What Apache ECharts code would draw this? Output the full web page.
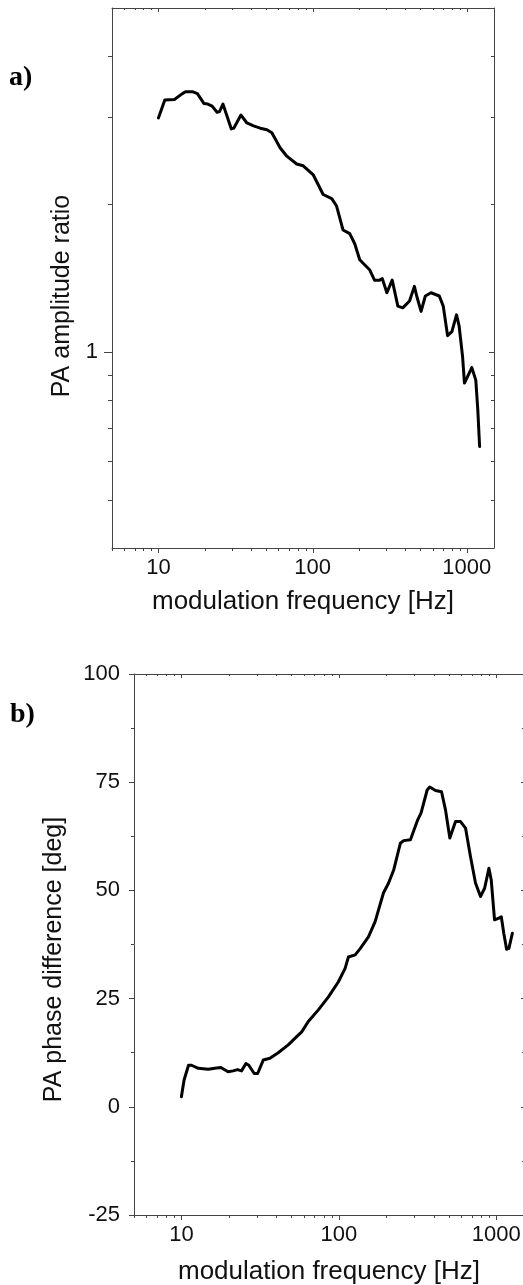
<!DOCTYPE html>
<html><head><meta charset="utf-8">
<script src="https://cdn.jsdelivr.net/npm/echarts@6/dist/echarts.min.js"></script>
<style>html,body{margin:0;padding:0;background:#fff}#c{width:523px;height:1285px}</style>
</head><body><div id="c"></div><script>
// ---- data ----
const ampFreq  = [10, 11.0, 11.3, 12.7, 14.3, 15.0, 16.6, 17.9, 19.7, 20.9, 22.3, 24.0, 24.9, 26.2, 27.9, 29.7, 30.8, 34.3, 37.5, 41.4, 45.7, 50.5, 54.4, 61.5, 68, 78.8, 86.9, 101, 117, 133, 143, 157.5, 174, 187.5, 202, 234, 252, 272, 283, 303, 328, 357, 384, 425, 457, 473, 505, 538, 586, 663, 703, 750, 800, 857, 891, 938, 965, 1077, 1143, 1178, 1210];
const ampRatio = [2.99, 3.25, 3.27, 3.26, 3.35, 3.38, 3.38, 3.35, 3.20, 3.19, 3.16, 3.07, 3.08, 3.19, 3.01, 2.84, 2.85, 3.03, 2.92, 2.88, 2.85, 2.83, 2.79, 2.60, 2.50, 2.41, 2.39, 2.29, 2.09, 2.05, 1.98, 1.77, 1.74, 1.66, 1.54, 1.47, 1.40, 1.40, 1.41, 1.32, 1.40, 1.24, 1.23, 1.27, 1.36, 1.30, 1.21, 1.30, 1.32, 1.30, 1.24, 1.08, 1.10, 1.19, 1.13, 0.98, 0.865, 0.93, 0.877, 0.762, 0.643];

const phaseFreq = [10, 10.4, 11.1, 11.6, 12.8, 14.8, 16.3, 17.8, 19.8, 21.3, 22.7, 24.1, 25.7, 26.8, 29.0, 30.5, 33.1, 36.5, 41.2, 47.7, 54, 58.1, 64, 74.1, 85.9, 99.4, 109.6, 115, 127, 137, 154.5, 170, 192, 207, 223, 246, 258, 285, 317, 333, 364, 378, 411, 449, 476, 507, 551, 593, 638, 686, 738, 794, 843, 898, 929, 975, 1040, 1076, 1116, 1163, 1203, 1265];
const phaseDeg  = [2.3, 6.2, 9.6, 9.6, 8.9, 8.7, 8.9, 9.1, 8.1, 8.3, 8.6, 8.3, 10.0, 9.6, 7.7, 7.7, 10.8, 11.2, 12.5, 14.3, 16.2, 17.3, 19.7, 22.4, 25.4, 28.9, 32.0, 34.6, 35.1, 36.6, 39.3, 42.8, 49.4, 51.7, 54.7, 60.9, 61.5, 61.7, 66.3, 67.9, 73.2, 73.9, 73.1, 72.8, 68.6, 62.1, 65.9, 65.9, 64.4, 57.8, 51.7, 48.6, 50.5, 55.1, 52.4, 43.2, 43.6, 43.9, 40.1, 36.4, 36.6, 40.1];

// tick values
const freqMajorTicks = [10, 100, 1000];
const freqMinorTicks = [5, 6, 7, 8, 9, 20, 30, 40, 50, 60, 70, 80, 90, 200, 300, 400, 500, 600, 700, 800, 900];
const ampMajorTicks = [1];
const ampMinorTicks = [0.5, 0.6, 0.7, 0.8, 0.9, 2, 3, 4];
const phaseTickLabels = [-25, 0, 25, 50, 75, 100];

// ---- styling ----
const AXC = '#444';
const FONT = '"Liberation Sans", Arial, sans-serif';
const TXT = '#111';

const chart = echarts.init(document.getElementById('c'), null, {renderer: 'canvas'});

function isDecade(v) {
  const l = Math.log10(v);
  return Math.abs(l - Math.round(l)) < 1e-6;
}

function tickSeries(xi, yi, values, kind, lenOut, lenIn, ref) {
  return {
    type: 'custom', xAxisIndex: xi, yAxisIndex: yi, silent: true, clip: false,
    animation: false, z: 5,
    data: values.map(v => kind === 'x' ? [v, ref] : [ref, v]),
    renderItem: function (params, api) {
      const cs = params.coordSys;
      const p = api.coord([api.value(0), api.value(1)]);
      const st = {stroke: AXC, lineWidth: 1};
      if (kind === 'x') {
        const x = Math.round(p[0]) + 0.5;
        const yb = cs.y + cs.height, yt = cs.y;
        return {type: 'group', children: [
          {type: 'line', shape: {x1: x, y1: yb, x2: x, y2: yb + lenOut}, style: st},
          {type: 'line', shape: {x1: x, y1: yt, x2: x, y2: yt + lenIn}, style: st}
        ]};
      } else {
        const y = Math.round(p[1]) + 0.5;
        const xl = cs.x, xr = cs.x + cs.width;
        return {type: 'group', children: [
          {type: 'line', shape: {x1: xl - lenOut, y1: y, x2: xl, y2: y}, style: st},
          {type: 'line', shape: {x1: xr - lenIn, y1: y, x2: xr, y2: y}, style: st}
        ]};
      }
    }
  };
}

const freqAxisBase = {
  type: 'log', logBase: 10, min: 5, max: 1500,
  axisLine: {show: true, onZero: false, lineStyle: {color: AXC, width: 1}},
  axisTick: {show: false}, splitLine: {show: false}, minorTick: {show: false}
};

const option = {
  animation: false,
  backgroundColor: '#fff',
  grid: [
    {left: 112, top: 8, width: 382, height: 540, outerBoundsMode: 'none', containLabel: false},
    {left: 134, top: 674, width: 390, height: 541, outerBoundsMode: 'none', containLabel: false}
  ],
  xAxis: [
    Object.assign({}, freqAxisBase, {
      gridIndex: 0, position: 'bottom',
      axisLabel: {fontSize: 22, color: TXT, fontFamily: FONT, margin: 9,
        formatter: v => (isDecade(v) && v >= 10) ? String(Math.round(v)) : ''},
      name: 'modulation frequency [Hz]', nameLocation: 'middle', nameGap: 41,
      nameTextStyle: {fontSize: 26, color: TXT, fontFamily: FONT}
    }),
    Object.assign({}, freqAxisBase, {gridIndex: 0, position: 'top', axisLabel: {show: false}}),
    Object.assign({}, freqAxisBase, {
      gridIndex: 1, position: 'bottom',
      axisLabel: {fontSize: 22, color: TXT, fontFamily: FONT, margin: 9,
        formatter: v => (isDecade(v) && v >= 10) ? String(Math.round(v)) : ''},
      name: 'modulation frequency [Hz]', nameLocation: 'middle', nameGap: 44,
      nameTextStyle: {fontSize: 26, color: TXT, fontFamily: FONT}
    }),
    Object.assign({}, freqAxisBase, {gridIndex: 1, position: 'top', axisLabel: {show: false}})
  ],
  yAxis: [
    {
      gridIndex: 0, type: 'log', logBase: 10, min: 0.4, max: 5, position: 'left',
      axisLine: {show: true, onZero: false, lineStyle: {color: AXC, width: 1}},
      axisTick: {show: false}, splitLine: {show: false},
      axisLabel: {fontSize: 22, color: TXT, fontFamily: FONT, margin: 14,
        formatter: v => ampMajorTicks.some(t => Math.abs(t - v) < 1e-6) ? String(v) : ''},
      name: 'PA amplitude ratio', nameLocation: 'middle', nameGap: 37,
      nameTextStyle: {fontSize: 25, color: TXT, fontFamily: FONT, padding: [0, 36, 0, 0]}
    },
    {
      gridIndex: 0, type: 'log', logBase: 10, min: 0.4, max: 5, position: 'right',
      axisLine: {show: true, onZero: false, lineStyle: {color: AXC, width: 1}},
      axisTick: {show: false}, splitLine: {show: false}, axisLabel: {show: false}
    },
    {
      gridIndex: 1, type: 'value', min: phaseTickLabels[0], max: phaseTickLabels[phaseTickLabels.length - 1], interval: 25,
      position: 'left',
      axisLine: {show: true, onZero: false, lineStyle: {color: AXC, width: 1}},
      axisTick: {show: true, length: 5, lineStyle: {color: AXC}},
      minorTick: {show: true, splitNumber: 2, length: 3, lineStyle: {color: AXC}},
      splitLine: {show: false},
      axisLabel: {fontSize: 22, color: TXT, fontFamily: FONT, margin: 14},
      name: 'PA phase difference [deg]', nameLocation: 'middle', nameGap: 67,
      nameTextStyle: {fontSize: 25, color: TXT, fontFamily: FONT, padding: [0, 30, 0, 0]}
    },
    {
      gridIndex: 1, type: 'value', min: phaseTickLabels[0], max: phaseTickLabels[phaseTickLabels.length - 1], interval: 25,
      position: 'right',
      axisLine: {show: true, onZero: false, lineStyle: {color: AXC, width: 1}},
      axisTick: {show: true, inside: true, length: 3, lineStyle: {color: AXC}},
      minorTick: {show: true, splitNumber: 2, length: 2, lineStyle: {color: AXC}},
      splitLine: {show: false}, axisLabel: {show: false}
    }
  ],
  graphic: [
    {type: 'text', left: 9, top: 64, style: {text: 'a)', font: 'bold 28px "Liberation Serif", "Times New Roman", serif', fill: '#000'}},
    {type: 'text', left: 10, top: 701, style: {text: 'b)', font: 'bold 28px "Liberation Serif", "Times New Roman", serif', fill: '#000'}}
  ],
  series: [
    {
      type: 'line', xAxisIndex: 0, yAxisIndex: 0, showSymbol: false, symbol: 'none',
      data: ampFreq.map((f, i) => [f, ampRatio[i]]),
      lineStyle: {color: '#000', width: 3, join: 'round', cap: 'round'}, smooth: false, z: 10
    },
    {
      type: 'line', xAxisIndex: 2, yAxisIndex: 2, showSymbol: false, symbol: 'none',
      data: phaseFreq.map((f, i) => [f, phaseDeg[i]]),
      lineStyle: {color: '#000', width: 3, join: 'round', cap: 'round'}, smooth: false, z: 10
    },
    tickSeries(0, 0, freqMajorTicks, 'x', 5, 4, 1),
    tickSeries(0, 0, freqMinorTicks, 'x', 3, 2, 1),
    tickSeries(0, 0, ampMajorTicks, 'y', 8, 5, 10),
    tickSeries(0, 0, ampMinorTicks, 'y', 4, 3, 10),
    tickSeries(2, 2, freqMajorTicks, 'x', 5, 4, 0),
    tickSeries(2, 2, freqMinorTicks, 'x', 3, 2, 0)
  ]
};
chart.setOption(option);
</script></body></html>
